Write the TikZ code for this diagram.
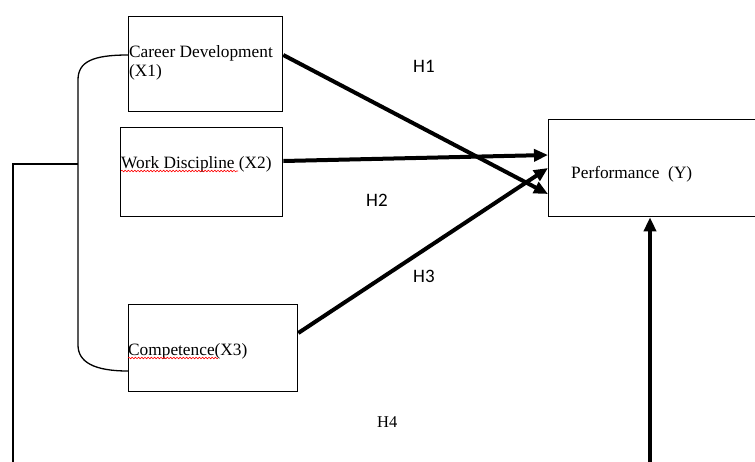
\documentclass[tikz,border=0pt]{standalone}
\usepackage{fontspec}
\setmainfont{Liberation Serif}
\newfontfamily\calfont{Carlito}
\usetikzlibrary{arrows.meta,decorations.pathmorphing,calc}
\begin{document}
\begin{tikzpicture}[x=1pt,y=-1pt,
  box/.style={draw,line width=1.3pt,inner sep=0pt,anchor=north west},
  lbl/.style={anchor=base west,inner sep=0pt,font=\fontsize{17.3}{20}\selectfont},
  hyp/.style={anchor=base west,inner sep=0pt,font=\calfont\fontsize{19}{22}\selectfont},
  thickarrow/.style={line width=4pt,-{Triangle[length=14pt,width=12pt]}},
  bracketline/.style={line width=1.3pt},
  squig/.style={red,line width=0.6pt,decorate,decoration={snake,segment length=3.2pt,amplitude=0.8pt}}
]
\useasboundingbox (0,0) rectangle (755,461);
\clip (0,0) rectangle (755,461);

% boxes
\node[box,minimum width=154pt,minimum height=95pt] (x1) at (128,16) {};
\node[box,minimum width=162pt,minimum height=89pt] (x2) at (120,127) {};
\node[box,minimum width=169pt,minimum height=87pt] (x3) at (128,304) {};
\node[box,minimum width=230pt,minimum height=97pt] (y) at (548,119) {};

% texts
\node[lbl] (t1) at (129,57) {Career Development};
\node[lbl] (t1b) at (129,76) {(X1)};
\node[lbl] (t2) at (121,168) {Work Discipline (X2)};
\node[lbl] (t3) at (128,355) {Competence(X3)};
\node[lbl] (ty) at (571,178) {Performance~~(Y)};

\draw[squig] ($(t2.base west)+(0,3)$) -- ++(117,0);
\draw[squig] ($(t3.base west)+(0,3)$) -- ++(90,0);

% hypothesis labels
\node[hyp] (h1) at (413,72) {H1};
\node[hyp] (h2) at (366,206) {H2};
\node[hyp] (h3) at (413,282) {H3};
\node[lbl,font=\fontsize{16.5}{19}\selectfont] (h4) at (377,427) {H4};

% arrows
\draw[thickarrow] ($(x1.north east)+(0,39)$) -- ($(y.north west)+(0,75)$);
\draw[thickarrow] ($(x2.north east)+(0,34)$) -- ($(y.north west)+(0,36)$);
\draw[thickarrow] ($(x3.north east)+(0,29)$) -- ($(y.north west)+(0,49)$);

\coordinate (b4) at (650,470);
\draw[thickarrow] (b4) -- (b4 |- y.south);

% bracket
\coordinate (c1) at ($(x1.north west)+(0,39)$);
\coordinate (c3) at ($(x3.north west)+(0,67)$);
\draw[bracketline] (c1) .. controls (92,55) and (78,62) .. (78,80) -- (78,345) .. controls (78,362) and (94,371) .. (c3);

\coordinate (j) at (78,164);
\coordinate (k) at (13,164);
\coordinate (kb) at (13,470);
\draw[bracketline] (j) -- (k) -- (kb);
\end{tikzpicture}
\end{document}
